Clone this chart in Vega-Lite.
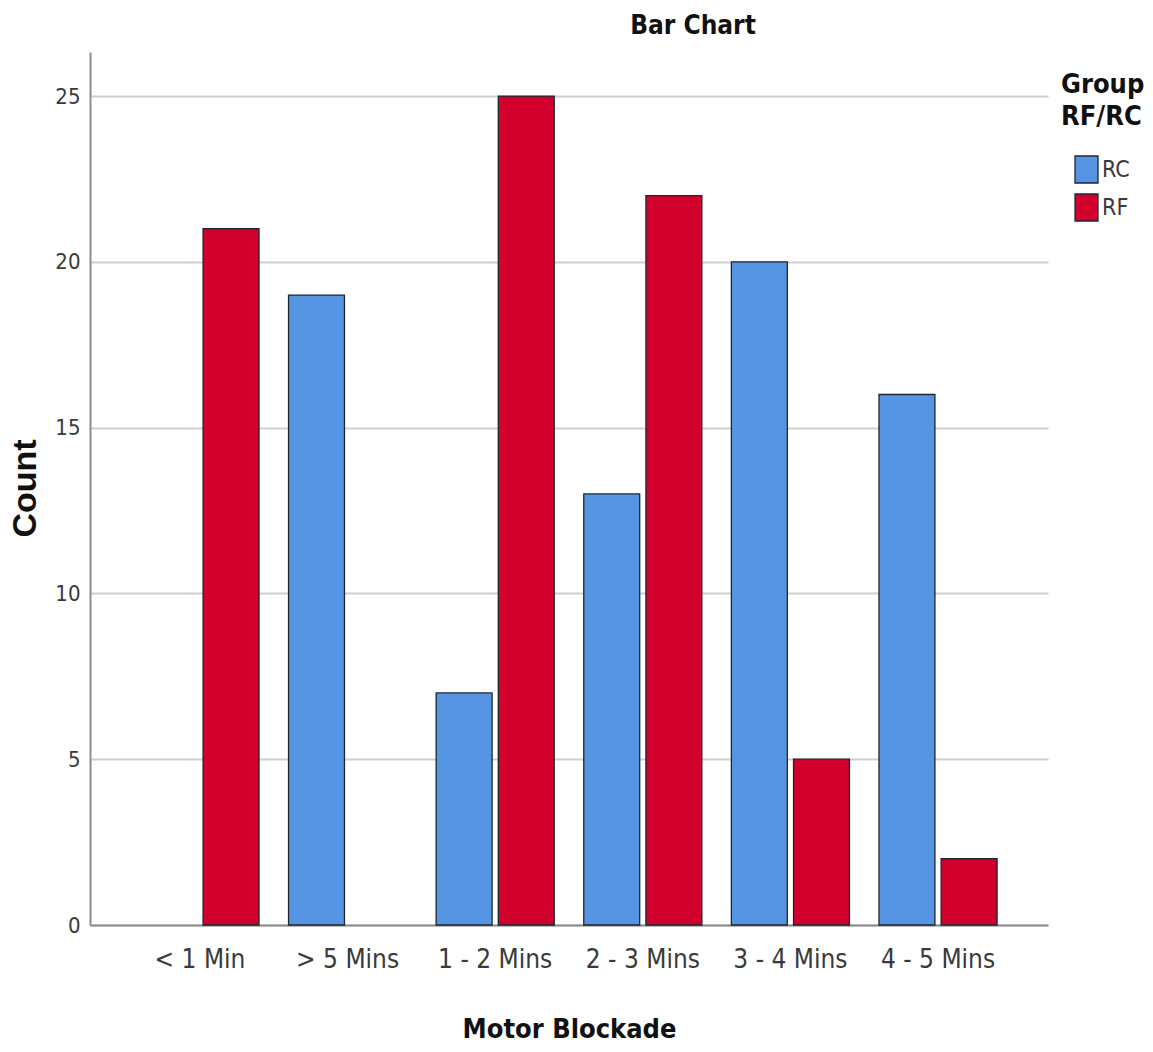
{
  "$schema": "https://vega.github.io/schema/vega-lite/v6.json",
  "width": 958,
  "height": 873,
  "autosize": {"type": "none"},
  "padding": {"left": 90, "top": 52, "right": 105, "bottom": 127},
  "background": "white",
  "title": {
    "text": "Bar Chart",
    "font": "DejaVu Sans Condensed, Liberation Sans, sans-serif",
    "fontSize": 26,
    "fontWeight": "bold",
    "color": "#111111",
    "anchor": "middle",
    "dx": 124,
    "offset": 13
  },
  "data": {
    "values": [
      {"block": "< 1 Min", "group": "RF", "count": 21},
      {"block": "> 5 Mins", "group": "RC", "count": 19},
      {"block": "1 - 2 Mins", "group": "RC", "count": 7},
      {"block": "1 - 2 Mins", "group": "RF", "count": 25},
      {"block": "2 - 3 Mins", "group": "RC", "count": 13},
      {"block": "2 - 3 Mins", "group": "RF", "count": 22},
      {"block": "3 - 4 Mins", "group": "RC", "count": 20},
      {"block": "3 - 4 Mins", "group": "RF", "count": 5},
      {"block": "4 - 5 Mins", "group": "RC", "count": 16},
      {"block": "4 - 5 Mins", "group": "RF", "count": 2}
    ]
  },
  "mark": {"type": "bar", "stroke": "#1e2630", "strokeWidth": 1.3},
  "encoding": {
    "x": {
      "field": "block",
      "type": "nominal",
      "sort": ["< 1 Min", "> 5 Mins", "1 - 2 Mins", "2 - 3 Mins", "3 - 4 Mins", "4 - 5 Mins"],
      "scale": {"paddingInner": 0.2, "paddingOuter": 0.345},
      "axis": {
        "title": "Motor Blockade",
        "titleFont": "DejaVu Sans Condensed, Liberation Sans, sans-serif",
        "titleFontSize": 27,
        "titleFontWeight": "bold",
        "titleColor": "#111111",
        "titlePadding": 44,
        "labelAngle": 0,
        "labelFont": "DejaVu Sans Condensed, Liberation Sans, sans-serif",
        "labelFontSize": 26,
        "labelColor": "#3a3a3a",
        "labelPadding": 21,
        "ticks": false,
        "domainColor": "#8c8c8c",
        "domainWidth": 2,
        "grid": false
      }
    },
    "xOffset": {
      "field": "group",
      "type": "nominal",
      "scale": {"domain": ["RC", "RF"], "paddingInner": 0.1}
    },
    "y": {
      "field": "count",
      "type": "quantitative",
      "scale": {"domain": [0, 26.33], "nice": false},
      "axis": {
        "title": "Count",
        "titleFont": "Liberation Sans, sans-serif",
        "titleFontSize": 34,
        "titleFontWeight": "bold",
        "titleColor": "#111111",
        "titleX": -48,
        "titleY": 436,
        "values": [0, 5, 10, 15, 20, 25],
        "labelFont": "DejaVu Sans Condensed, Liberation Sans, sans-serif",
        "labelFontSize": 22,
        "labelColor": "#3a3a3a",
        "labelPadding": 10,
        "ticks": false,
        "domainColor": "#8c8c8c",
        "domainWidth": 2,
        "grid": true,
        "gridColor": "#cfcfcf",
        "gridWidth": 2
      }
    },
    "color": {
      "field": "group",
      "type": "nominal",
      "scale": {"domain": ["RC", "RF"], "range": ["#5595e3", "#d1002c"]},
      "legend": {
        "title": ["Group", "RF/RC"],
        "orient": "none",
        "legendX": 971,
        "legendY": 20,
        "titleFont": "DejaVu Sans Condensed, Liberation Sans, sans-serif",
        "titleFontSize": 27,
        "titleFontWeight": "bold",
        "titleColor": "#111111",
        "titleLineHeight": 32,
        "titlePadding": 24,
        "labelFont": "DejaVu Sans Condensed, Liberation Sans, sans-serif",
        "labelFontSize": 23,
        "labelColor": "#3a3a3a",
        "labelOffset": 1,
        "symbolType": "M-0.85,-1H0.85V1H-0.85Z",
        "symbolSize": 729,
        "symbolStrokeColor": "#1e2630",
        "symbolStrokeWidth": 1.3,
        "symbolOffset": 11,
        "rowPadding": 5
      }
    }
  },
  "config": {
    "view": {"stroke": null}
  }
}
